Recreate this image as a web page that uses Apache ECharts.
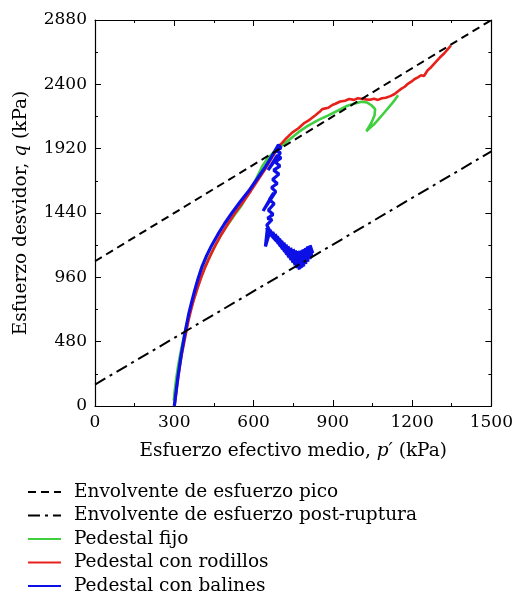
<!DOCTYPE html>
<html>
<head>
<meta charset="utf-8">
<script src="https://cdn.jsdelivr.net/npm/echarts@6/dist/echarts.min.js"></script>
<style>
html,body{margin:0;padding:0;background:#fff;}
#chart{width:516px;height:596px;}
</style>
</head>
<body>
<div id="chart"></div>
<script>
// ---- data ----
const xTicks = [0, 300, 600, 900, 1200, 1500];
const yTicks = [0, 480, 960, 1440, 1920, 2400, 2880];

const legendNames = [
  'Envolvente de esfuerzo pico',
  'Envolvente de esfuerzo post-ruptura',
  'Pedestal fijo',
  'Pedestal con rodillos',
  'Pedestal con balines'
];

// envelopes (p', q)
const envelopePico = [[0, 1080], [1500, 2880]];
const envelopePost = [[0, 160], [1500, 1900]];

// Pedestal fijo (green)
const pedestalFijo = [
  [298,40],[302,120],[307,200],[313,280],[320,360],[328,440],[337,520],[346,600],[356,680],
  [368,760],[381,840],[396,930],[412,1020],[430,1100],[450,1180],[473,1260],[498,1340],
  [526,1420],[556,1500],[590,1615],[615,1715],[635,1795],[652,1845],[672,1885],[700,1930],
  [725,1972],[750,2010],[771,2045],[805,2090],[846,2135],[883,2168],[920,2205],[950,2236],
  [983,2258],[1009,2270],[1030,2264],[1046,2244],[1060,2215],[1058,2170],[1045,2110],
  [1027,2050],[1040,2075],[1055,2100],[1071,2135],[1095,2190],[1121,2250],[1137,2290],[1147,2318]
];

// Pedestal con rodillos (red)
const pedestalRodillos = [
  [301,0],[306,80],[311,160],[317,240],[323,320],[330,400],[338,480],[346,560],[354,640],
  [364,720],[375,800],[388,880],[402,960],[418,1040],[436,1120],[456,1200],[478,1280],
  [503,1360],[530,1440],[560,1520],[590,1605],[620,1695],[648,1780],[672,1860],[695,1935],
  [720,1990],[746,2040],[770,2072],[790,2108],[812,2135],[833,2168],[850,2195],[860,2215],
  [866,2203],[883,2225],[898,2246],[910,2255],[928,2272],[946,2278],[962,2290],[980,2284],
  [995,2296],[1009,2292],[1025,2288],[1040,2285],[1056,2292],[1071,2284],[1086,2296],[1100,2300],
  [1118,2312],[1134,2328],[1148,2350],[1160,2368],[1172,2382],[1184,2404],[1197,2420],[1210,2440],
  [1222,2452],[1234,2468],[1245,2462],[1259,2505],[1272,2528],[1284,2555],[1295,2578],
  [1305,2600],[1322,2632],[1336,2664],[1347,2690]
];

// Pedestal con balines (blue)
const pedestalBalines = [
  [300,0],[304,60],[309,140],[314,220],[320,300],[326,380],[333,460],[340,540],[347,610],
  [355,690],[365,770],[377,860],[390,950],[405,1040],[422,1120],[442,1200],[465,1280],
  [490,1360],[518,1440],[548,1520],[580,1600],[612,1690],[640,1770],[662,1840],[680,1900],
  [694,1948],[704,1925],[682,1905],[702,1890],[655,1760],[690,1870],[704,1850],[682,1820],
  [700,1790],[676,1760],[696,1730],[672,1690],[690,1660],[668,1630],[684,1600],[636,1455],
  [676,1590],[660,1540],[678,1510],[656,1460],[674,1430],[653,1400],[670,1390],
  [650,1350],[670,1275],[648,1330],[678,1255],[652,1320],[645,1190],[660,1290],[686,1232],
  [662,1312],[694,1212],[672,1298],[702,1190],[682,1282],[710,1170],[690,1265],[718,1150],
  [698,1248],[726,1130],[706,1232],[734,1110],[714,1218],[742,1090],[722,1204],[750,1070],
  [730,1192],[758,1050],[740,1180],[766,1030],[750,1170],[774,1018],[758,1160],[782,1028],
  [766,1156],[790,1040],[776,1160],[798,1058],[786,1168],[806,1075],[796,1180],[814,1095],
  [804,1192],[820,1115],[814,1200],[824,1140]
];

// ---- chart ----
const FONT = 'DejaVu Serif';
const FS_TICK = 17;
const FS = 18.5;
const chart = echarts.init(document.getElementById('chart'), null, {renderer: 'canvas'});

function axisCommon(showLabels) {
  return {
    axisLine: {show: true, onZero: false, lineStyle: {color: '#000', width: 1.2}},
    axisTick: {show: true, inside: true, length: 6, lineStyle: {color: '#000', width: 1}},
    minorTick: {show: true, splitNumber: 2, length: 3, lineStyle: {color: '#000', width: 1}},
    splitLine: {show: false},
    minorSplitLine: {show: false},
    axisLabel: {show: showLabels, color: '#000', fontFamily: FONT, fontSize: FS_TICK, margin: 8,
      formatter: function (v) { return String(v); }}
  };
}

const titleStyle = {
  color: '#000', fontFamily: FONT, fontSize: FS,
  rich: {i: {fontStyle: 'italic', fontFamily: FONT, fontSize: FS, color: '#000'}}
};

const option = {
  backgroundColor: '#fff',
  animation: false,
  grid: {left: 95, top: 20, width: 399, height: 386},
  xAxis: [
    Object.assign({
      type: 'value', min: xTicks[0], max: xTicks[xTicks.length - 1], interval: 300,
      position: 'bottom',
      name: 'Esfuerzo efectivo medio, {i|p′} (kPa)',
      nameLocation: 'middle', nameGap: 36,
      nameTextStyle: titleStyle
    }, axisCommon(true)),
    Object.assign({
      type: 'value', min: xTicks[0], max: xTicks[xTicks.length - 1], interval: 300,
      position: 'top'
    }, axisCommon(false))
  ],
  yAxis: [
    Object.assign({
      type: 'value', min: yTicks[0], max: yTicks[yTicks.length - 1], interval: 480,
      position: 'left',
      name: 'Esfuerzo desvidor, {i|q} (kPa)',
      nameLocation: 'middle', nameGap: 64,
      nameTextStyle: titleStyle
    }, axisCommon(true)),
    Object.assign({
      type: 'value', min: yTicks[0], max: yTicks[yTicks.length - 1], interval: 480,
      position: 'right'
    }, axisCommon(false))
  ],
  legend: {
    orient: 'vertical', left: 27, top: 482, padding: 0,
    itemWidth: 33, itemHeight: 12, itemGap: 3.5,
    data: legendNames,
    itemStyle: {opacity: 0},
    textStyle: {color: '#000', fontFamily: FONT, fontSize: FS, lineHeight: 20, padding: [0,0,0,8]}
  },
  series: [
    {
      name: legendNames[2], type: 'line', data: pedestalFijo, symbol: 'none',
      lineStyle: {color: '#3fcf3f', width: 2.6}, itemStyle: {color: '#3fcf3f'}, z: 2
    },
    {
      name: legendNames[3], type: 'line', data: pedestalRodillos, symbol: 'none',
      lineStyle: {color: '#e8201a', width: 2.6}, itemStyle: {color: '#e8201a'}, z: 3
    },
    {
      name: legendNames[4], type: 'line', data: pedestalBalines, symbol: 'none',
      lineStyle: {color: '#0c10e6', width: 3.2}, itemStyle: {color: '#0c10e6'}, z: 4
    },
    {
      name: legendNames[0], type: 'line', data: envelopePico, symbol: 'none',
      lineStyle: {color: '#000', width: 2, type: [8, 5]}, itemStyle: {color: '#000'}, z: 5
    },
    {
      name: legendNames[1], type: 'line', data: envelopePost, symbol: 'none',
      lineStyle: {color: '#000', width: 2, type: [12, 5, 3, 5]}, itemStyle: {color: '#000'}, z: 5
    }
  ]
};
chart.setOption(option);
</script>
</body>
</html>
